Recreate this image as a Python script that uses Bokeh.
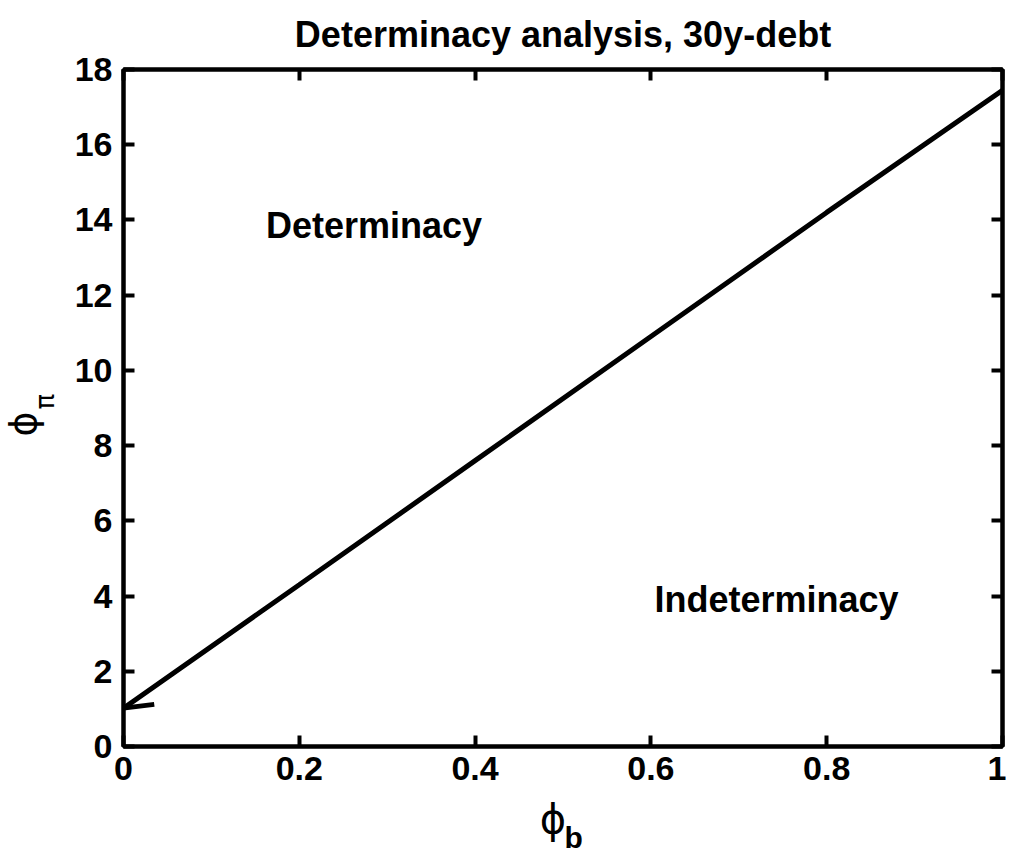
from bokeh.plotting import figure
from bokeh.models import Range1d, LinearAxis, FixedTicker, Title, ColumnDataSource
from bokeh.core.properties import value
from bokeh.embed import file_html
from bokeh.resources import INLINE

# Data
phi_b = [0.0, 0.2, 0.4, 0.6, 0.8, 1.0]
phi_pi = [1.02, 4.30, 7.60, 10.90, 14.20, 17.45]
hook_b = [0.035, 0.0]
hook_pi = [1.12, 1.02]

x_ticks = [0, 0.2, 0.4, 0.6, 0.8, 1]
x_tick_labels = ["0", "0.2", "0.4", "0.6", "0.8", "1"]
y_ticks = [0, 2, 4, 6, 8, 10, 12, 14, 16, 18]
y_tick_labels = ["0", "2", "4", "6", "8", "10", "12", "14", "16", "18"]

region_x = [0.162, 0.604]
region_y = [13.85, 3.9]
region_text = ["Determinacy", "Indeterminacy"]

title_text = "Determinacy analysis, 30y-debt"

FONT = "Liberation Sans"

W, H = 1006, 854
FL, FR, FT, FB = 123, 1002, 68, 746   # frame edges in page pixels

p = figure(width=W, height=H, output_backend="svg", toolbar_location=None,
           x_range=Range1d(0, 1), y_range=Range1d(0, 18),
           x_axis_location=None, y_axis_location=None,
           min_border_left=FL, min_border_right=W - FR,
           min_border_top=FT, min_border_bottom=H - FB)
p.grid.visible = False
p.outline_line_color = "black"
p.outline_line_width = 4
p.background_fill_color = "white"
p.border_fill_color = "white"

def mk_axis(ticks, labels, show_labels, standoff):
    ax = LinearAxis(ticker=FixedTicker(ticks=ticks))
    ax.major_label_overrides = {t: l for t, l in zip(ticks, labels)}
    ax.axis_line_color = "black"
    ax.axis_line_width = 4
    ax.major_tick_line_width = 4
    ax.major_tick_in = 11
    ax.major_tick_out = 0
    ax.minor_tick_line_color = None
    ax.major_label_text_font = FONT
    ax.major_label_text_font_style = "bold"
    ax.major_label_text_font_size = "34px"
    ax.major_label_text_color = "black"
    ax.major_label_standoff = standoff
    if not show_labels:
        ax.major_label_text_alpha = 0
        ax.major_label_text_font_size = "1px"
    return ax

xax = mk_axis(x_ticks, x_tick_labels, True, 10)
xax.axis_label = "\u03d5\u2002"
xax.axis_label_text_font = "DejaVu Sans"
xax.axis_label_text_font_size = "40px"
xax.axis_label_text_font_style = "normal"
xax.axis_label_text_color = "black"
xax.axis_label_standoff = 13
p.add_layout(xax, "below")
p.add_layout(mk_axis(y_ticks, y_tick_labels, True, 11), "left")
p.add_layout(mk_axis(x_ticks, x_tick_labels, False, 0), "above")
p.add_layout(mk_axis(y_ticks, y_tick_labels, False, 0), "right")

p.line(phi_b, phi_pi, line_color="black", line_width=5)
p.line(hook_b, hook_pi, line_color="black", line_width=5)

src = ColumnDataSource(dict(x=region_x, y=region_y, t=region_text))
p.text(x="x", y="y", text="t", source=src, text_font=value(FONT), text_font_style="bold",
       text_font_size="36px", text_baseline="middle", text_align="left", text_color="black")

# main title
p.add_layout(Title(text=title_text, align="center", vertical_align="top", text_font=FONT,
                   text_font_style="bold", text_font_size="36px", text_color="black",
                   standoff=26), "above")
# x label subscript b
p.add_layout(Title(text="b", align="left", vertical_align="top", offset=441, text_font=FONT,
                   text_font_size="30px", text_font_style="bold", text_color="black",
                   standoff=-48), "below")
# y label: phi_pi
p.add_layout(Title(text="\u03c0", align="left", offset=337, text_font="DejaVu Sans",
                   text_font_size="26px", text_font_style="normal", text_color="black",
                   standoff=24), "left")
p.add_layout(Title(text="\u03d5", align="left", offset=310, text_font="DejaVu Sans",
                   text_font_size="38px", text_font_style="normal", text_color="black",
                   standoff=-58), "left")

open("out.html", "w").write(file_html(p, INLINE))
